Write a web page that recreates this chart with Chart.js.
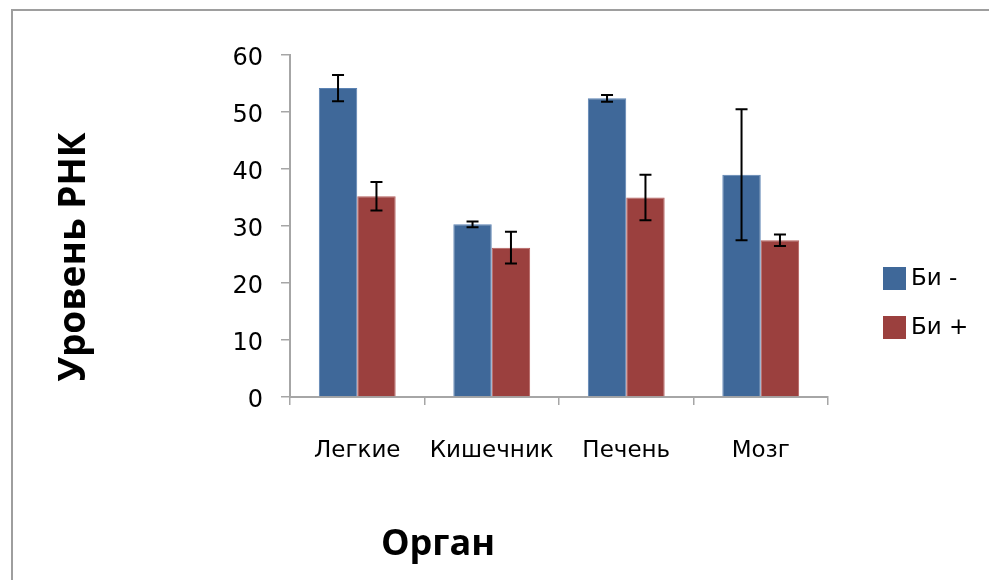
<!DOCTYPE html>
<html>
<head>
<meta charset="utf-8">
<script src="https://cdn.jsdelivr.net/npm/chart.js@4"></script>
<style>
  html, body { margin: 0; padding: 0; background: #ffffff; }
  #wrap { width: 989px; height: 580px; position: relative; }
</style>
</head>
<body>
<div id="wrap"><canvas id="c" width="989" height="580"></canvas></div>
<script>
const categories = ['Легкие', 'Кишечник', 'Печень', 'Мозг'];
const seriesNames = ['Би -', 'Би +'];
const biMinus = [54.2, 30.3, 52.4, 39.0];
const biMinusErr = [2.3, 0.5, 0.6, 11.5];
const biPlus = [35.2, 26.2, 35.0, 27.5];
const biPlusErr = [2.5, 2.8, 4.0, 1.0];
const yTicks = [0, 10, 20, 30, 40, 50, 60];
const yTitle = 'Уровень РНК';
const xTitle = 'Орган';

const FONT = '"DejaVu Sans", "Open Sans", sans-serif';
const TITLE_FONT = '"Open Sans", "Liberation Sans", sans-serif';
const AXIS_GRAY = '#A6A6A6';

const errorBars = {
  id: 'errorBars',
  afterDatasetsDraw(chart) {
    const ctx = chart.ctx;
    const y = chart.scales.y;
    chart.data.datasets.forEach((ds, di) => {
      const meta = chart.getDatasetMeta(di);
      meta.data.forEach((bar, i) => {
        const v = ds.data[i], e = ds.errors[i];
        const top = y.getPixelForValue(v + e);
        const bot = y.getPixelForValue(v - e);
        const x = bar.x;
        ctx.save();
        ctx.strokeStyle = '#000000';
        ctx.lineWidth = 2;
        ctx.beginPath();
        ctx.moveTo(x, top); ctx.lineTo(x, bot);
        ctx.moveTo(x - 6, top); ctx.lineTo(x + 6, top);
        ctx.moveTo(x - 6, bot); ctx.lineTo(x + 6, bot);
        ctx.stroke();
        ctx.restore();
      });
    });
  }
};

const decor = {
  id: 'decor',
  beforeDraw(chart) {
    const ctx = chart.ctx;
    ctx.save();
    ctx.fillStyle = '#ffffff';
    ctx.fillRect(0, 0, chart.width, chart.height);
    ctx.strokeStyle = '#9E9E9E';
    ctx.lineWidth = 2;
    ctx.beginPath();
    ctx.moveTo(12, chart.height + 2);
    ctx.lineTo(12, 10);
    ctx.lineTo(chart.width + 2, 10);
    ctx.stroke();
    ctx.restore();
  },
  afterDraw(chart) {
    const ctx = chart.ctx;
    const a = chart.chartArea;
    ctx.save();
    ctx.fillStyle = '#000000';
    ctx.textAlign = 'center';
    ctx.textBaseline = 'middle';
    ctx.font = 'bold 36px ' + TITLE_FONT;
    ctx.fillText(xTitle, a.left + 148, 545);
    ctx.font = 'bold 37px ' + TITLE_FONT;
    ctx.translate(74, 257);
    ctx.rotate(-Math.PI / 2);
    ctx.fillText(yTitle, 0, 0);
    ctx.restore();
    // legend
    ctx.save();
    ctx.font = '23px ' + FONT;
    ctx.textAlign = 'left';
    ctx.textBaseline = 'middle';
    chart.data.datasets.forEach((ds, i) => {
      const yTop = 267 + i * 49;
      ctx.fillStyle = ds.backgroundColor;
      ctx.fillRect(883, yTop, 23, 23);
      ctx.fillStyle = '#000000';
      ctx.fillText(ds.label, 911, yTop + 12);
    });
    ctx.restore();
  }
};

new Chart(document.getElementById('c'), {
  type: 'bar',
  data: {
    labels: categories,
    datasets: [
      { label: seriesNames[0], data: biMinus, errors: biMinusErr,
        backgroundColor: '#3F6899', borderColor: '#5B82B3', borderWidth: 1,
        categoryPercentage: 2 / 3.5, barPercentage: 1 },
      { label: seriesNames[1], data: biPlus, errors: biPlusErr,
        backgroundColor: '#9B403E', borderColor: '#B45E5C', borderWidth: 1,
        categoryPercentage: 2 / 3.5, barPercentage: 1 }
    ]
  },
  options: {
    responsive: false,
    animation: false,
    devicePixelRatio: 1,
    layout: { padding: { left: 0, right: 161, top: 55, bottom: 0 } },
    plugins: {
      legend: { display: false },
      tooltip: { enabled: false },
      title: { display: false }
    },
    scales: {
      x: {
        afterFit(s) { s.height = 183; },
        grid: { display: true, drawOnChartArea: false, offset: true, color: AXIS_GRAY, lineWidth: 1.5, tickLength: 8 },
        border: { display: true, color: AXIS_GRAY, width: 2 },
        ticks: { color: '#000000', font: { family: FONT, size: 23 }, padding: 32, maxRotation: 0 }
      },
      y: {
        min: 0, max: 60,
        afterFit(s) { s.width = 290; },
        afterBuildTicks(s) { s.ticks = yTicks.map(v => ({ value: v })); },
        grid: { display: true, drawOnChartArea: false, color: AXIS_GRAY, lineWidth: 1.5, tickLength: 9 },
        border: { display: true, color: AXIS_GRAY, width: 2 },
        ticks: { color: '#000000', font: { family: FONT, size: 24 }, padding: 18, labelOffset: 4 }
      }
    }
  },
  plugins: [decor, errorBars]
});
</script>
</body>
</html>
